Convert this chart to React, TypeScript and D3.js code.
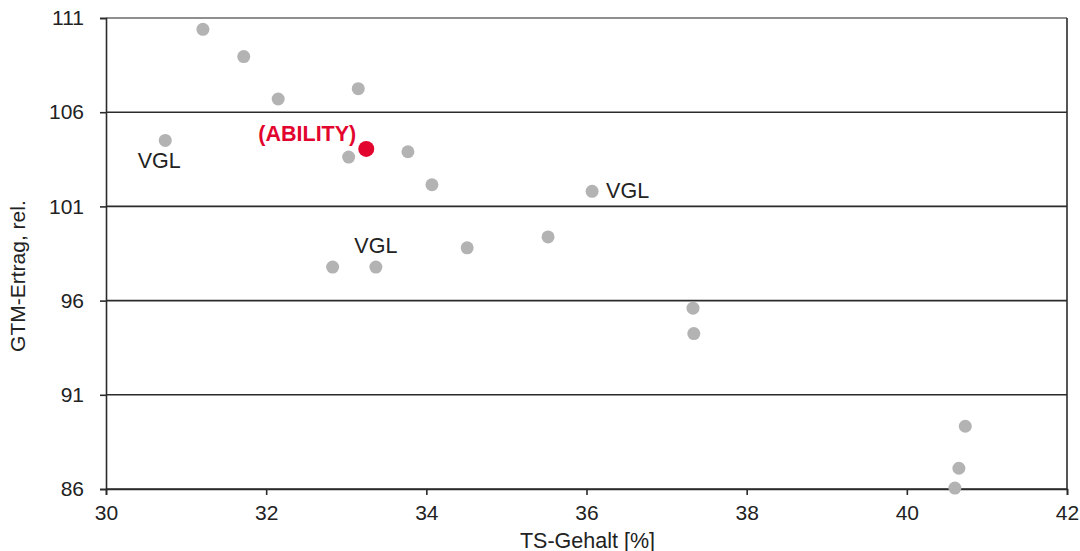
import React, { useEffect, useRef } from 'react'
import * as d3 from 'd3'

// TS-Gehalt [%] und GTM-Ertrag rel. der Vergleichssorten
const tsGehalt = [
    31.21, 31.72, 32.15, 33.15, 30.74, 33.03, 33.77, 34.07, 36.07, 35.52, 34.51, 32.83, 33.37,
    37.33, 37.34, 40.73, 40.65, 40.6,
]
const gtmErtrag = [
    110.4, 108.95, 106.7, 107.25, 104.5, 103.62, 103.9, 102.15, 101.8, 99.38, 98.8, 97.78, 97.78,
    95.6, 94.25, 89.33, 87.1, 86.05,
]

// Sorte ABILITY
const abilityTs = 33.25
const abilityErtrag = 104.05

// Beschriftungen: Index des Punktes, Text, Lage
const labelIndex = [4, 8, 12]
const labelText = ['VGL', 'VGL', 'VGL']
const labelSide = ['below', 'right', 'above']

const xTicks = [30, 32, 34, 36, 38, 40, 42]
const yTicks = [86, 91, 96, 101, 106, 111]

const WIDTH = 1080
const HEIGHT = 551
const FONT = 'Liberation Sans, Arial, Helvetica, sans-serif'

const Chart: React.FC = () => {
    const svgRef = useRef<SVGSVGElement>(null)

    useEffect(() => {
        if (!svgRef.current) return
        d3.select(svgRef.current).selectAll('*').remove()

        const margin = { top: 18, right: 13, bottom: 62, left: 106 }
        const innerWidth = WIDTH - margin.left - margin.right
        const innerHeight = HEIGHT - margin.top - margin.bottom

        const svg = d3.select(svgRef.current).attr('width', WIDTH).attr('height', HEIGHT)
        const g = svg.append('g').attr('transform', `translate(${margin.left},${margin.top})`)

        const xScale = d3.scaleLinear().domain([30, 42]).range([0, innerWidth])
        const yScale = d3.scaleLinear().domain([86, 111]).range([innerHeight, 0])

        // Gitterlinien
        g.append('g')
            .selectAll('line')
            .data(yTicks)
            .enter()
            .append('line')
            .attr('x1', 0)
            .attr('x2', innerWidth)
            .attr('y1', (d) => yScale(d))
            .attr('y2', (d) => yScale(d))
            .attr('stroke', (d) => (d === 111 ? '#6a6a6a' : '#2b2b2b'))
            .attr('stroke-width', 1.6)

        // rechter Rand
        g.append('line')
            .attr('x1', innerWidth)
            .attr('x2', innerWidth)
            .attr('y1', 0)
            .attr('y2', innerHeight)
            .attr('stroke', '#2b2b2b')
            .attr('stroke-width', 1.6)

        // Y-Achse
        const yAxis = g
            .append('g')
            .call(d3.axisLeft(yScale).tickValues(yTicks).tickSize(6).tickPadding(16))
        yAxis.select('.domain').attr('stroke', '#2b2b2b').attr('stroke-width', 1.6)
        yAxis.selectAll('.tick line').attr('stroke', '#2b2b2b').attr('stroke-width', 1.6)
        yAxis
            .selectAll('.tick text')
            .attr('fill', '#222')
            .style('font-family', FONT)
            .style('font-size', '21px')

        // X-Achse
        const xAxis = g
            .append('g')
            .attr('transform', `translate(0,${innerHeight})`)
            .call(d3.axisBottom(xScale).tickValues(xTicks).tickSize(6).tickPadding(10))
        xAxis.select('.domain').attr('stroke', '#2b2b2b').attr('stroke-width', 1.6)
        xAxis.selectAll('.tick line').attr('stroke', '#2b2b2b').attr('stroke-width', 1.6)
        xAxis
            .selectAll('.tick text')
            .attr('fill', '#222')
            .style('font-family', FONT)
            .style('font-size', '21px')

        // Achsentitel
        g.append('text')
            .attr('x', xScale(36) + 1)
            .attr('y', innerHeight + 59)
            .attr('text-anchor', 'middle')
            .attr('fill', '#222')
            .style('font-family', FONT)
            .style('font-size', '21.5px')
            .text('TS-Gehalt [%]')

        g.append('text')
            .attr('transform', 'rotate(-90)')
            .attr('x', -yScale(97.3))
            .attr('y', -81)
            .attr('text-anchor', 'middle')
            .attr('fill', '#222')
            .style('font-family', FONT)
            .style('font-size', '21px')
            .text('GTM-Ertrag, rel.')

        // Vergleichssorten
        g.append('g')
            .selectAll('circle')
            .data(tsGehalt.map((x, i) => ({ x, y: gtmErtrag[i] })))
            .enter()
            .append('circle')
            .attr('cx', (d) => xScale(d.x))
            .attr('cy', (d) => yScale(d.y))
            .attr('r', 6.5)
            .attr('fill', '#b3b3b3')

        // VGL-Beschriftungen
        labelIndex.forEach((idx, k) => {
            const cx = xScale(tsGehalt[idx])
            const cy = yScale(gtmErtrag[idx])
            const side = labelSide[k]
            const t = g
                .append('text')
                .attr('fill', '#222')
                .style('font-family', FONT)
                .style('font-size', '21.5px')
                .text(labelText[k])
            if (side === 'below') {
                t.attr('x', cx - 6).attr('y', cy + 28).attr('text-anchor', 'middle')
            } else if (side === 'right') {
                t.attr('x', cx + 14).attr('y', cy + 7).attr('text-anchor', 'start')
            } else {
                t.attr('x', cx).attr('y', cy - 14).attr('text-anchor', 'middle')
            }
        })

        // ABILITY
        const ax = xScale(abilityTs)
        const ay = yScale(abilityErtrag)
        g.append('circle').attr('cx', ax).attr('cy', ay).attr('r', 8).attr('fill', '#e2062f')
        g.append('text')
            .attr('x', ax - 10)
            .attr('y', ay - 8)
            .attr('text-anchor', 'end')
            .attr('fill', '#e2062f')
            .style('font-family', FONT)
            .style('font-size', '21.5px')
            .style('font-weight', 'bold')
            .text('(ABILITY)')
    }, [])

    return <svg ref={svgRef} style={{ position: 'fixed', left: 0, top: 0, background: '#fff' }} />
}

export default function App() {
    return <Chart />
}
